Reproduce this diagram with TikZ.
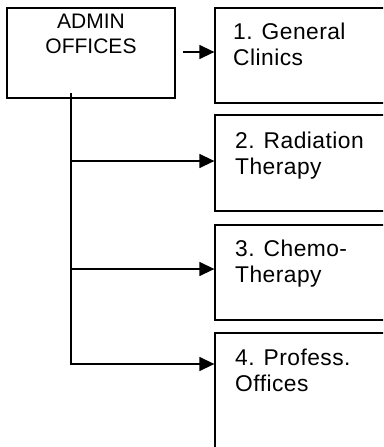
\documentclass[tikz,border=0pt]{standalone}
\usepackage{fontspec}
\setmainfont{Liberation Sans}
\newfontfamily\captionfont[LetterSpace=2]{Liberation Sans}
\usetikzlibrary{arrows.meta}
\begin{document}
\begin{tikzpicture}[x=1pt,y=-1pt,
  box/.style={draw=black,line width=1.3pt,rectangle,inner sep=0pt},
  label/.style={inner sep=0pt,align=left,font=\captionfont\fontsize{22.8}{26}\selectfont},
  link/.style={line width=1.4pt},
  arr/.style={link,-{Triangle[length=15pt,width=14pt]}}]
  \useasboundingbox (0,0) rectangle (383,447);
  \clip (0,0) rectangle (383,447);
  % head office
  \node[box,minimum width=168pt,minimum height=90pt] (admin) at (91,53) {};
  \node[inner sep=0pt,align=center,anchor=base,font=\fontsize{21}{25}\selectfont]
    (admintxt) at (91,53) {ADMIN\\OFFICES};
  % departments (right and lower sides run past the frame)
  \node[box,minimum width=185pt,minimum height=95pt] (b1) at (307.5,55.5) {};
  \node[box,minimum width=185pt,minimum height=96pt] (b2) at (307.5,163) {};
  \node[box,minimum width=185pt,minimum height=95pt] (b3) at (307.5,272.5) {};
  \node[box,minimum width=185pt,minimum height=140pt] (b4) at (307.5,403) {};
  % captions, placed by the baseline of their last line
  \node[label,anchor=base west] (t1) at (233,65.5) {1. General\\Clinics};
  \node[label,anchor=base west] (t2) at (235,174.5) {2. Radiation\\Therapy};
  \node[label,anchor=base west] (t3) at (235,282.5) {3. Chemo-\\Therapy};
  \node[label,anchor=base west] (t4) at (235,391) {4. Profess.\\Offices};
  % connectors
  \coordinate (out1) at (183,52);
  \coordinate (trunk) at (71,93);
  \coordinate (e1) at (b1.west |- out1);
  \coordinate (e2) at (b2.west |- 0,161);
  \coordinate (e3) at (b3.west |- 0,269);
  \coordinate (e4) at (b4.west |- 0,364);
  \draw[arr] (out1) -- (e1);
  \draw[arr] (trunk) |- (e4);
  \draw[arr] (trunk |- e2) -- (e2);
  \draw[arr] (trunk |- e3) -- (e3);
\end{tikzpicture}
\end{document}
